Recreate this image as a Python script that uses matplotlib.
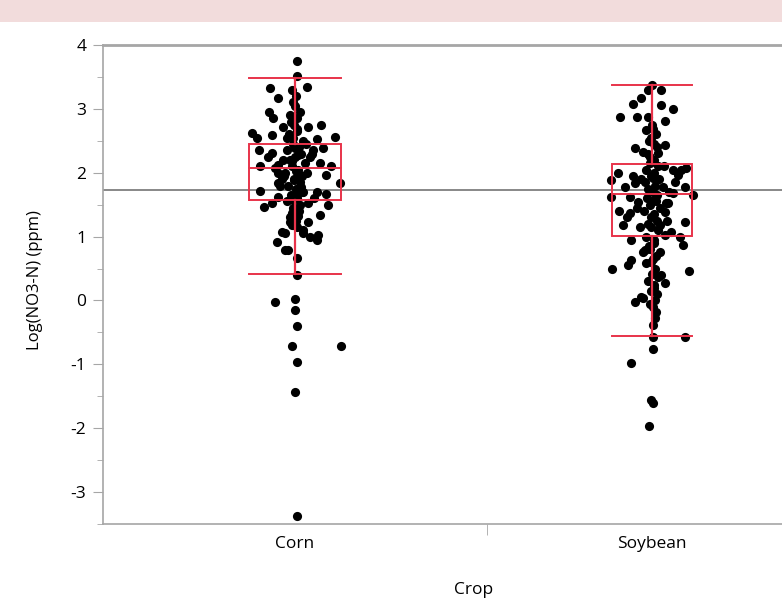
import matplotlib
matplotlib.use("Agg")
import matplotlib.pyplot as plt
from matplotlib.patches import Rectangle
from matplotlib.ticker import MultipleLocator
import numpy as np

plt.rcParams['font.family'] = ['Open Sans', 'DejaVu Sans']
plt.rcParams['axes.unicode_minus'] = False

## group positions on the x axis
crops = ["Corn", "Soybean"]
crop_pos = [0.0, 0.93]
divider = 0.5

## Corn: jitter offset and Log(NO3-N)
corn_dx = [0.004, 0.004, -0.064, -0.043, -0.007, 0.030, -0.069, -0.056, -0.012, -0.030,
           -0.113, -0.100, 0.035, 0.069, 0.056, 0.103, -0.061, -0.095, -0.059, -0.090,
           0.074, 0.095, 0.082, 0.118, -0.090, -0.043, -0.043, 0.056, 0.082, -0.082,
           -0.061, -0.043, 0.087, 0.035, 0.066, -0.009, -0.012, 0.035, 0.004, -0.025,
           0.022, -0.048, -0.025, 0.056, 0.040, 0.004, 0.004, -0.051, 0.066, 0.017,
           -0.035, 0.061, -0.017,
           -0.051, -0.001, 0.001, 0.004, -0.007, 0.121, 0.004, -0.001, 0.004,
           0.000, 0.012, -0.010, 0.005, -0.015, 0.020, -0.005, 0.010, -0.020, 0.015,
           0.000, -0.012, 0.025, -0.008, 0.008, -0.025, 0.018, -0.003, 0.012, -0.018,
           0.003, 0.022, -0.010, 0.006, -0.022, 0.014, -0.006, 0.010, -0.014, 0.002,
           0.020, -0.030, 0.030, -0.035, 0.045, -0.040, 0.038, 0.028, -0.028, 0.048,
           -0.070, -0.020, 0.015, 0.050, -0.045, 0.010,
           0.002, -0.004, 0.006, -0.002, 0.004, -0.006, 0.000, 0.008, -0.008, 0.003,
           -0.003, 0.005, -0.005, 0.001, 0.007, -0.007]
corn_y = [3.75, 3.51, 3.33, 3.17, 3.30, 3.34, 2.95, 2.86, 2.90, 2.72,
          2.62, 2.54, 2.72, 2.75, 2.53, 2.56, 2.59, 2.36, 2.31, 2.11,
          2.39, 2.11, 1.97, 1.84, 1.72, 2.12, 1.84, 1.70, 1.67, 1.46,
          1.53, 1.62, 1.50, 1.53, 1.34, 1.37, 1.23, 1.23, 1.15, 1.06,
          1.06, 0.92, 0.79, 0.95, 1.00, 0.67, 0.40, 2.08, 2.15, 1.70,
          1.07, 1.03, 0.79,
          -0.02, 0.02, -0.15, -0.40, -0.71, -0.71, -0.96, -1.43, -3.37,
          3.05, 2.95, 2.80, 2.68, 2.60, 2.50, 2.45, 2.40, 2.35, 2.30,
          2.25, 2.20, 2.15, 2.10, 2.05, 2.00, 1.95, 1.90, 1.85, 1.80,
          1.75, 1.70, 1.65, 1.60, 1.55, 1.50, 1.45, 1.40, 1.30, 1.25,
          1.10, 2.20, 2.00, 1.90, 2.30, 1.80, 2.25, 2.45, 1.95, 2.35,
          2.25, 2.55, 1.78, 1.60, 2.00, 1.92,
          3.20, 3.10, 2.85, 2.75, 2.65, 2.55, 2.38, 2.28, 2.18, 2.02,
          1.88, 1.72, 1.58, 1.42, 1.33, 1.18]

## Soybean: jitter offset and Log(NO3-N)
soy_dx = [0.000, 0.023, -0.010, -0.029, -0.049, 0.023, 0.055, -0.083, -0.039, 0.034,
          -0.010, -0.016, -0.044, 0.034, -0.023, 0.016, -0.089, -0.107, 0.055, 0.089,
          0.068, -0.044, -0.070, 0.029, 0.086, -0.107, -0.057, -0.036, 0.055, 0.107,
          0.036, -0.057, -0.076, -0.031, 0.021, 0.086, 0.049, 0.073, -0.055, 0.034,
          0.081, -0.023, 0.021, -0.055, -0.062, -0.104, 0.096, 0.016, 0.034, -0.044,
          -0.023, 0.008, 0.010, 0.008, 0.003, 0.086, 0.003, -0.055, -0.003, 0.003,
          -0.008, -0.016, 0.023, -0.029, 0.042, 0.034, -0.018,
          0.000, 0.010, -0.008, 0.012, -0.012, 0.006, -0.005, 0.015, -0.015, 0.004,
          -0.004, 0.018, -0.018, 0.008, -0.010, 0.002, 0.014, -0.014, 0.010, -0.006,
          0.020, -0.020, 0.005, -0.002, 0.012, -0.012, 0.016, -0.016, 0.006, -0.008,
          0.010, -0.004, 0.008, -0.010, 0.004, 0.012, -0.006, 0.002,
          0.030, -0.030, 0.045, -0.040, 0.060, -0.065, 0.075, -0.050, 0.040, -0.085,
          0.002, -0.003, 0.005, -0.005, 0.001, 0.004, -0.002, 0.006, -0.006, 0.003,
          -0.001, 0.005, -0.004, 0.002]
soy_y = [3.37, 3.30, 3.30, 3.17, 3.07, 3.06, 3.00, 2.88, 2.88, 2.81,
         2.88, 2.67, 2.39, 2.44, 2.33, 2.31, 2.00, 1.89, 2.04, 2.07,
         1.97, 1.84, 1.78, 1.78, 1.78, 1.62, 1.62, 1.54, 1.68, 1.65,
         1.53, 1.37, 1.18, 1.15, 1.18, 1.23, 1.07, 1.00, 0.95, 1.03,
         0.87, 0.76, 0.76, 0.64, 0.56, 0.49, 0.46, 0.37, 0.27, -0.02,
         0.04, 0.01, -0.18, -0.27, -0.57, -0.57, -0.76, -0.98, -1.56, -1.60,
         -1.96, 0.59, 0.40, 0.06, 1.53, 1.39, 0.79,
         2.75, 2.60, 2.50, 2.40, 2.30, 2.20, 2.15, 2.10, 2.05, 2.00,
         1.95, 1.90, 1.85, 1.80, 1.75, 1.70, 1.65, 1.60, 1.55, 1.50,
         1.45, 1.40, 1.35, 1.30, 1.25, 1.20, 1.10, 1.00, 0.90, 0.85,
         0.70, 0.60, 0.50, 0.30, 0.20, 0.10, -0.05, -0.10,
         2.10, 1.90, 1.70, 1.45, 1.85, 1.30, 2.05, 1.95, 1.25, 1.40,
         2.68, 2.55, 2.45, 2.25, 1.92, 1.58, 1.15, 0.95, 0.80, 0.65,
         0.42, 0.25, 0.15, -0.38]

## quantile boxes: lower whisker, q1, median, q3, upper whisker
corn_box = [0.42, 1.57, 2.07, 2.45, 3.48]
soy_box = [-0.56, 1.01, 1.67, 2.14, 3.38]
box_half = [0.121, 0.105]
grand_mean = 1.73

red = "#e8334a"
grey = "#a6a6a6"

fig = plt.figure(figsize=(7.82, 6.0), dpi=100)
fig.patches.append(Rectangle((0, 1 - 22 / 600), 1, 22 / 600, transform=fig.transFigure,
                             facecolor="#f2dcdc", edgecolor="none", zorder=0))
ax = fig.add_axes([103 / 782, 1 - 524 / 600, 1 - 103 / 782, (524 - 45) / 600])

ax.axhline(grand_mean, color="#7f7f7f", lw=1.3, zorder=1)

for pos, dx, ys in [(crop_pos[0], corn_dx, corn_y), (crop_pos[1], soy_dx, soy_y)]:
    ax.plot(pos + np.array(dx), ys, "o", color="black", ms=6.6, mec="none", zorder=2)

for pos, stats, hw in zip(crop_pos, [corn_box, soy_box], box_half):
    lo, q1, med, q3, hi = stats
    ax.add_patch(Rectangle((pos - hw, q1), 2 * hw, q3 - q1, fill=False,
                           edgecolor=red, lw=1.4, zorder=3))
    ax.plot([pos - hw, pos + hw], [med, med], color=red, lw=1.4, zorder=3)
    ax.plot([pos, pos], [q3, hi], color=red, lw=1.6, zorder=3)
    ax.plot([pos, pos], [lo, q1], color=red, lw=1.6, zorder=3)
    ax.plot([pos - hw, pos + hw], [hi, hi], color=red, lw=1.4, zorder=3)
    ax.plot([pos - hw, pos + hw], [lo, lo], color=red, lw=1.4, zorder=3)

ax.set_xlim(-0.5, (782 - 103) / 384 - 0.5)
ax.set_ylim(-3.5, 4)

ax.yaxis.set_major_locator(MultipleLocator(1))
ax.yaxis.set_minor_locator(MultipleLocator(0.5))
ax.tick_params(axis="y", which="major", length=7, color=grey, labelsize=12.5, pad=5)
ax.tick_params(axis="y", which="minor", length=4, color=grey)

ax.set_xticks(crop_pos)
ax.set_xticklabels(crops)
ax.set_xticks([divider], minor=True)
ax.tick_params(axis="x", which="major", length=0, labelsize=12.5, pad=9)
ax.tick_params(axis="x", which="minor", length=8, color=grey)

for side in ["left", "bottom", "top"]:
    ax.spines[side].set_color(grey)
    ax.spines[side].set_linewidth(1.2)
ax.spines["top"].set_linewidth(2)
ax.spines["right"].set_visible(False)

ax.set_ylabel("Log(NO3-N) (ppm)", fontsize=12)
ax.yaxis.set_label_coords(-(103 - 35) / (782 - 103), (524 - 280) / (524 - 45))
ax.set_xlabel("Crop", fontsize=12.5)
ax.xaxis.set_label_coords((474 - 103) / (782 - 103), -(590 - 524) / (524 - 45))
ax.xaxis.label.set_va("center")
ax.yaxis.label.set_va("center")

fig.savefig("out.png", dpi=100)
